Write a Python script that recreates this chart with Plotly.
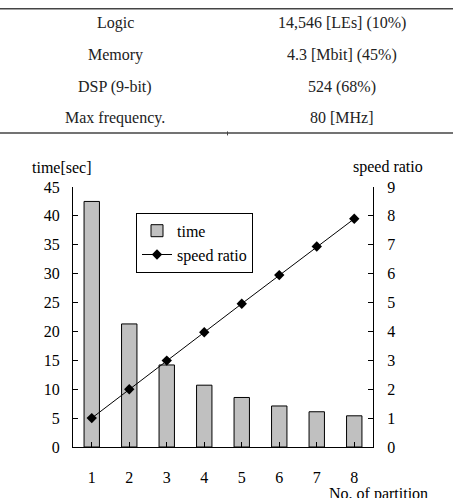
import plotly.graph_objects as go

# ---- data ----
partitions = [1, 2, 3, 4, 5, 6, 7, 8]
time_sec = [42.5, 21.3, 14.2, 10.7, 8.57, 7.1, 6.1, 5.4]
speed_ratio = [1.0, 2.0, 2.99, 3.97, 4.96, 5.95, 6.94, 7.9]

table_labels = ["Logic", "Memory", "DSP (9-bit)", "Max frequency."]
table_values = ["14,546 [LEs] (10%)", "4.3 [Mbit] (45%)", "524 (68%)", "80 [MHz]"]

left_ticks = [0, 5, 10, 15, 20, 25, 30, 35, 40, 45]
right_ticks = [0, 1, 2, 3, 4, 5, 6, 7, 8, 9]

# ---- layout geometry (pixels) ----
W, H = 462, 498
L, R, T, B = 73, 373, 187, 449
FAMILY = "'Liberation Serif', 'Times New Roman', Times, serif"
FONT = dict(family=FAMILY, size=16, color="black")


def px(x):
    return (x - L) / (R - L)


def py(y):
    return (B - y) / (B - T)


fig = go.Figure()
fig.add_trace(go.Bar(
    x=partitions, y=time_sec, name="time", width=0.41,
    marker=dict(color="#c0c0c0", line=dict(color="black", width=1)),
    yaxis="y",
))
fig.add_trace(go.Scatter(
    x=partitions, y=speed_ratio, name="speed ratio", mode="lines+markers",
    line=dict(color="black", width=1),
    marker=dict(symbol="diamond", size=8, color="black"),
    yaxis="y2",
))

fig.update_layout(
    width=W, height=H,
    margin=dict(l=L, r=W - R, t=T, b=H - B, pad=0),
    paper_bgcolor="white", plot_bgcolor="white",
    font=FONT,
    showlegend=True,
    legend=dict(
        x=px(136), y=py(213), xanchor="left", yanchor="top",
        bordercolor="black", borderwidth=1, bgcolor="white",
        font=FONT, itemwidth=30, tracegroupgap=0,
    ),
    xaxis=dict(
        range=[0.5, 8.5], tickmode="array", tickvals=partitions,
        ticktext=[str(p) for p in partitions],
        showgrid=False, zeroline=False,
        showline=True, linecolor="black", linewidth=1,
        ticks="inside", ticklen=5, tickcolor="black", tickson="boundaries",
        ticklabelstandoff=16,
    ),
    yaxis=dict(
        range=[0, 45], tickmode="array", tickvals=left_ticks,
        showgrid=False, zeroline=False,
        showline=True, linecolor="black", linewidth=1,
        ticks="inside", ticklen=5, tickcolor="black",
        ticklabelstandoff=9,
    ),
    yaxis2=dict(
        range=[0, 9], tickmode="array", tickvals=right_ticks,
        overlaying="y", side="right",
        showgrid=False, zeroline=False,
        showline=True, linecolor="black", linewidth=1,
        ticks="inside", ticklen=5, tickcolor="black",
        ticklabelstandoff=10,
    ),
    bargap=0.59,
)

annotations = [
    dict(text="time[sec]", x=px(62), y=py(167), xref="paper", yref="paper",
         showarrow=False, font=FONT, xanchor="center", yanchor="middle"),
    dict(text="speed ratio", x=px(388), y=py(167), xref="paper", yref="paper",
         showarrow=False, font=FONT, xanchor="center", yanchor="middle"),
    dict(text="No. of partition", x=px(378), y=py(496), xref="paper", yref="paper",
         showarrow=False, font=FONT, xanchor="center", yanchor="middle"),
]

row_y = [22, 54, 86, 117]
for lab, val, ry in zip(table_labels, table_values, row_y):
    annotations.append(dict(text=lab, x=px(115), y=py(ry), xref="paper", yref="paper",
                            showarrow=False, font=dict(FONT, color="#222"),
                            xanchor="center", yanchor="middle"))
    annotations.append(dict(text=val, x=px(342), y=py(ry), xref="paper", yref="paper",
                            showarrow=False, font=dict(FONT, color="#222"),
                            xanchor="center", yanchor="middle"))
fig.update_layout(annotations=annotations)

shapes = []
for ly in [7.5, 132.5]:
    shapes.append(dict(type="line", xref="paper", yref="paper",
                       x0=px(0), x1=px(453), y0=py(ly), y1=py(ly),
                       line=dict(color="#444", width=1.5)))
shapes.append(dict(type="line", xref="paper", yref="paper",
                   x0=px(227.5), x1=px(227.5), y0=py(131), y1=py(135),
                   line=dict(color="#444", width=1)))
fig.update_layout(shapes=shapes)

fig.write_html("out.html")
